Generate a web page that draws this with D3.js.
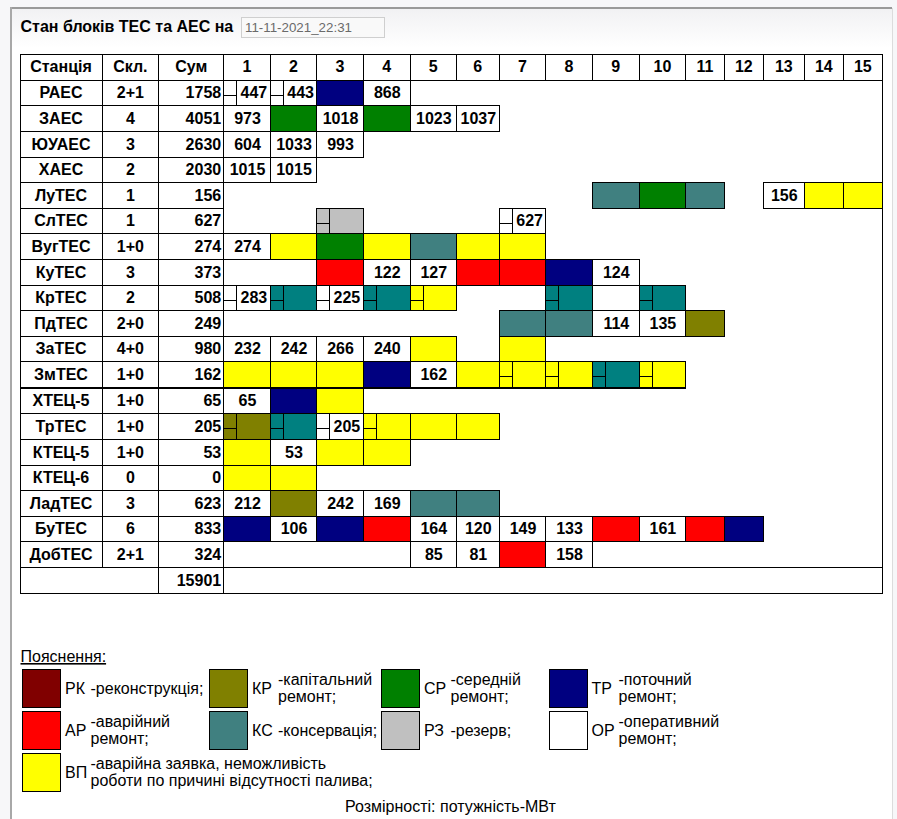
<!DOCTYPE html>
<html>
<head>
<meta charset="utf-8">
<script src="https://cdn.jsdelivr.net/npm/d3@7/dist/d3.min.js"></script>
<style>
  html, body { margin: 0; padding: 0; background: #f7f7f9; }
  svg { display: block; }
  text { font-family: "Liberation Sans", Arial, sans-serif; }
</style>
</head>
<body>
<svg id="chart" width="897" height="819"></svg>
<script>
// ---------------- DATA ----------------
const titleText = "Стан блоків ТЕС та АЕС на";
const stampText = "11-11-2021_22:31";
const headerLabels = ["Станція", "Скл.", "Сум"];
const unitNumbers = ["1","2","3","4","5","6","7","8","9","10","11","12","13","14","15"];

const stations = ["РАЕС","ЗАЕС","ЮУАЕС","ХАЕС","ЛуТЕС","СлТЕС","ВугТЕС","КуТЕС","КрТЕС","ПдТЕС",
                  "ЗаТЕС","ЗмТЕС","ХТЕЦ-5","ТрТЕС","КТЕЦ-5","КТЕЦ-6","ЛадТЕС","БуТЕС","ДобТЕС"];
const composition = ["2+1","4","3","2","1","1","1+0","3","2","2+0","4+0","1+0","1+0","1+0","1+0","0","3","6","2+1"];
const stationTotals = [1758,4051,2630,2030,156,627,274,373,508,249,980,162,65,205,53,0,623,833,324];
const grandTotal = 15901;

// unit status per station (columns 1..15); "" = no unit
const unitStatus = [
  ["OR","OR","TR","OR"],
  ["OR","SR","OR","SR","OR","OR"],
  ["OR","OR","OR"],
  ["OR","OR"],
  ["","","","","","","","","KS","SR","KS","","OR","VP","VP"],
  ["","","RZ","","","","OR"],
  ["OR","VP","SR","VP","KS","VP","VP"],
  ["","","AR","OR","OR","AR","AR","TR","OR"],
  ["OR","TL","OR","TL","VP","","","TL","","TL"],
  ["","","","","","","KS","KS","OR","OR","KR"],
  ["OR","OR","OR","OR","VP","","VP"],
  ["VP","VP","VP","TR","OR","VP","VP","VP","TL","VP"],
  ["OR","TR","VP"],
  ["KR","TL","OR","VP","VP","VP"],
  ["VP","OR","VP","VP"],
  ["VP","VP"],
  ["OR","KR","OR","OR","KS","KS"],
  ["TR","OR","TR","AR","OR","OR","OR","OR","AR","OR","AR","TR"],
  ["","","","","OR","OR","AR","OR"]
];
// unit power, MW (null = none shown)
const unitPower = [
  [447,443,null,868],
  [973,null,1018,null,1023,1037],
  [604,1033,993],
  [1015,1015],
  [null,null,null,null,null,null,null,null,null,null,null,null,156,null,null],
  [null,null,null,null,null,null,627],
  [274],
  [null,null,null,122,127,null,null,null,124],
  [283,null,225],
  [null,null,null,null,null,null,null,null,114,135,null],
  [232,242,266,240],
  [null,null,null,null,162],
  [65],
  [null,null,205],
  [null,53],
  [],
  [212,null,242,169],
  [null,106,null,null,164,120,149,133,null,161],
  [null,null,null,null,85,81,null,158]
];
// cells drawn with the small split sub-cell on the left (1 = split)
const unitSplit = [
  [1,1,0,0],
  [],[],[],[],
  [0,0,1,0,0,0,1],
  [],[],
  [1,1,1,1,1,0,0,1,0,1],
  [],[],
  [0,0,0,0,0,0,1,1,1,1],
  [],
  [1,1,1,1],
  [],[],[],[],[]
];

const statusColors = {
  OR: "#ffffff", TR: "#000080", SR: "#008000", KR: "#808000", RK: "#800000",
  AR: "#ff0000", KS: "#408080", RZ: "#c0c0c0", VP: "#ffff00", TL: "#008080"
};

const legendTitle = "Пояснення:";
const legendStatus = ["RK","KR","SR","TR","AR","KS","RZ","OR","VP"];
const legendCodes  = ["РК","КР","СР","ТР","АР","КС","РЗ","ОР","ВП"];
const legendDescr  = [
  ["-реконструкція;"],
  ["-капітальний","ремонт;"],
  ["-середній","ремонт;"],
  ["-поточний","ремонт;"],
  ["-аварійний","ремонт;"],
  ["-консервація;"],
  ["-резерв;"],
  ["-оперативний","ремонт;"],
  ["-аварійна заявка, неможливість","роботи по причині відсутності палива;"]
];
const unitsNote = "Розмірності: потужність-МВт";

// ---------------- LAYOUT ----------------
const colKeys = ["st","cmp","sum"].concat(unitNumbers, ["end"]);
const colEdges = [20, 102, 158.7, 223.7, 270.3, 316.7, 363.3, 410.3, 456.3, 499.3, 545.7,
                  592.3, 639.3, 685.5, 724.3, 763.3, 804.3, 843.3, 882.3, 882.3];
const x = d3.scaleOrdinal().domain(colKeys).range(colEdges);
const colRight = k => x(colKeys[colKeys.indexOf(k) + 1]);

const headerTop = 54.3, headerBottom = 80.3;
const yBand = d3.scaleBand().domain(stations).range([80.3, 566.8]);
const thickAfter = "ЗмТЕС";
const rowTop = s => yBand(s) + (stations.indexOf(s) > stations.indexOf(thickAfter) ? 0.8 : 0);
const rowBottom = s => rowTop(s) + yBand.step();
const totalTop = rowBottom(stations[stations.length - 1]);
const totalBottom = 593.3;

const px = v => Math.floor(v) + 0.5;
const FONT = 16;
const splitW = 13, splitH = 15;

const svg = d3.select("#chart");

// page frame
const defs = svg.append("defs");
const grad = defs.append("linearGradient").attr("id","topfade").attr("x1",0).attr("x2",0).attr("y1",0).attr("y2",1);
grad.append("stop").attr("offset","0%").attr("stop-color","#f1f1f3");
grad.append("stop").attr("offset","100%").attr("stop-color","#ffffff");
svg.append("rect").attr("x",11).attr("y",8).attr("width",881).attr("height",820).attr("fill","#ffffff");
svg.append("rect").attr("x",11).attr("y",8).attr("width",881).attr("height",40).attr("fill","url(#topfade)");
svg.append("line").attr("x1",11).attr("x2",892).attr("y1",8).attr("y2",8).attr("stroke","#9a9a9a").attr("stroke-width",2);
svg.append("line").attr("x1",11).attr("x2",11).attr("y1",7).attr("y2",819).attr("stroke","#a8a8a8").attr("stroke-width",2);
svg.append("line").attr("x1",892.5).attr("x2",892.5).attr("y1",8).attr("y2",819).attr("stroke","#dcdcdc").attr("stroke-width",1);

// title + stamp box
svg.append("text").attr("x",20.5).attr("y",31.5).attr("font-size",FONT).attr("font-weight","bold")
   .attr("fill","#000").text(titleText);
svg.append("rect").attr("x",241.5).attr("y",17.5).attr("width",143).attr("height",20)
   .attr("fill","#f9f9f9").attr("stroke","#cfcfcf");
svg.append("text").attr("x",245).attr("y",32).attr("font-size",13.33).attr("fill","#6a6a6a").text(stampText);

const g = svg.append("g");

function cellRect(x0, x1, y0, y1, fill) {
  g.append("rect").attr("x",px(x0)).attr("y",px(y0))
    .attr("width",px(x1)-px(x0)).attr("height",px(y1)-px(y0))
    .attr("fill",fill).attr("stroke","#000").attr("stroke-width",1);
}
function cellText(txt, cx, y0, anchor) {
  g.append("text").attr("x",cx).attr("y",y0 + 18).attr("text-anchor",anchor || "middle")
    .attr("font-size",FONT).attr("font-weight","bold").attr("fill","#000").text(txt);
}

// outer table border
cellRect(colEdges[0], colEdges[colEdges.length-1], headerTop, totalBottom, "#ffffff");

// header
const headKeys = ["st","cmp","sum"].concat(unitNumbers);
const headTexts = headerLabels.concat(unitNumbers);
headKeys.forEach((k,i) => {
  cellRect(x(k), colRight(k), headerTop, headerBottom, "#ffffff");
  cellText(headTexts[i], (x(k)+colRight(k))/2, headerTop);
});

// station rows
stations.forEach((s,i) => {
  const y0 = rowTop(s), y1 = rowBottom(s);
  cellRect(x("st"), colRight("st"), y0, y1, "#ffffff");
  cellText(s, (x("st")+colRight("st"))/2, y0);
  cellRect(x("cmp"), colRight("cmp"), y0, y1, "#ffffff");
  cellText(composition[i], (x("cmp")+colRight("cmp"))/2, y0);
  cellRect(x("sum"), colRight("sum"), y0, y1, "#ffffff");
  cellText(String(stationTotals[i]), colRight("sum") - 2.5, y0, "end");

  unitNumbers.forEach((u,j) => {
    const st = (unitStatus[i] || [])[j];
    if (!st) return;
    const x0 = x(u), x1 = colRight(u);
    const fill = statusColors[st];
    cellRect(x0, x1, y0, y1, fill);
    const split = (unitSplit[i] || [])[j] === 1;
    let tx0 = x0;
    if (split) {
      const sx = px(x0) + splitW;
      g.append("line").attr("x1",sx).attr("x2",sx).attr("y1",px(y0)).attr("y2",px(y1))
        .attr("stroke","#000");
      g.append("line").attr("x1",px(x0)).attr("x2",sx).attr("y1",px(y0)+splitH).attr("y2",px(y0)+splitH)
        .attr("stroke","#000");
      tx0 = sx;
    }
    const v = (unitPower[i] || [])[j];
    if (v !== null && v !== undefined) cellText(String(v), (tx0 + x1)/2 + 0.5, y0);
  });

  if (s === thickAfter) {
    const last = d3.max(unitNumbers.map((u,j) => (unitStatus[i][j] ? j : -1)));
    g.append("line").attr("x1",colEdges[0]).attr("x2",px(colRight(unitNumbers[last]))+0.5)
      .attr("y1",Math.floor(y1)+1).attr("y2",Math.floor(y1)+1)
      .attr("stroke","#000").attr("stroke-width",2);
  }
});

// total row
cellRect(x("st"), colRight("cmp"), totalTop, totalBottom, "#ffffff");
cellRect(x("sum"), colRight("sum"), totalTop, totalBottom, "#ffffff");
cellText(String(grandTotal), colRight("sum") - 2.5, totalTop, "end");
cellRect(x("1"), x("end"), totalTop, totalBottom, "#ffffff");

// legend
const lg = svg.append("g");
lg.append("text").attr("x",20.5).attr("y",662).attr("font-size",FONT).attr("fill","#000")
  .attr("text-decoration","underline").text(legendTitle);
const legSwX = [22.5, 209.5, 381.5, 549.5];
const legCodeX = [65, 252, 424, 591.5];
const legDescX = [90.5, 278, 450.5, 618.5];
const legRowY = [669.5, 711.5, 753.5];
legendStatus.forEach((st,k) => {
  const c = k % 4, r = Math.floor(k / 4);
  const top = legRowY[r];
  lg.append("rect").attr("x",legSwX[c]).attr("y",top).attr("width",38).attr("height",38)
    .attr("fill",statusColors[st]).attr("stroke","#000");
  lg.append("text").attr("x",legCodeX[c]).attr("y",top+24.5).attr("font-size",FONT).attr("fill","#000")
    .text(legendCodes[k]);
  const lines = legendDescr[k];
  if (lines.length === 1) {
    lg.append("text").attr("x",legDescX[c]).attr("y",top+24.5).attr("font-size",FONT).attr("fill","#000")
      .text(lines[0]);
  } else {
    lines.forEach((ln,li) => {
      lg.append("text").attr("x",legDescX[c]).attr("y",top+15 + li*17.5).attr("font-size",FONT).attr("fill","#000")
        .text(ln);
    });
  }
});
lg.append("text").attr("x",345).attr("y",811.5).attr("font-size",FONT).attr("fill","#000").text(unitsNote);
</script>
</body>
</html>
